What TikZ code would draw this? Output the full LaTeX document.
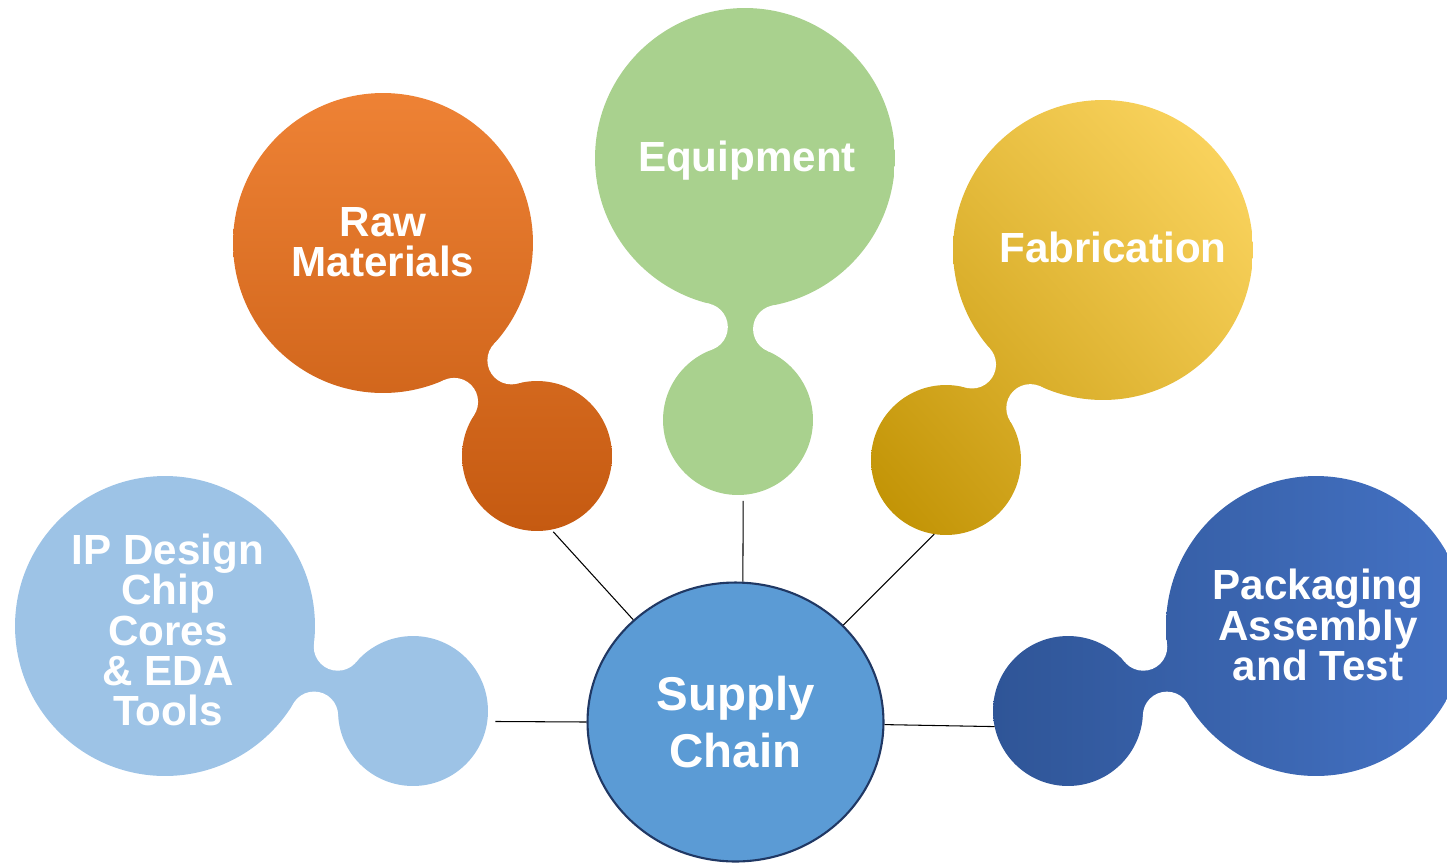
\documentclass[tikz,border=0pt]{standalone}
\usepackage{fontspec}
\setmainfont{Liberation Sans}
\usetikzlibrary{shapes.geometric,intersections,shadings}
\definecolor{rawtop}{HTML}{EE8235}
\definecolor{rawbottom}{HTML}{C55A11}
\definecolor{equipgreen}{HTML}{A9D18E}
\definecolor{fabdark}{HTML}{BF9000}
\definecolor{fablight}{HTML}{FFD966}
\definecolor{iplight}{HTML}{9DC3E6}
\definecolor{packdark}{HTML}{2F5597}
\definecolor{packlight}{HTML}{4472C4}
\definecolor{hubblue}{HTML}{5B9BD5}
\definecolor{hubline}{HTML}{203864}
\newcommand{\bubble}[4]{
	\coordinate (#1b) at #2;
	\node[knob] (#1S) at #3 {};
	\path[name path=#1pb] (#1b) circle[radius=3.48cm];
	\path[name path=#1ps] (#1S.center) circle[radius=1.98cm];
	\path[name intersections={of=#1pb and #1ps,by={#1fa,#1fb}}];
	\begin{scope}[local bounding box=#1box]
		\path (#1b) circle[radius=3cm] (#1S.center) circle[radius=1.5cm];
	\end{scope}
	\begin{scope}
		\clip (#1b) circle[radius=3cm];
		\path[#4] (#1box.south west) rectangle (#1box.north east);
	\end{scope}
	\begin{scope}
		\clip (#1S.center) circle[radius=1.5cm];
		\path[#4] (#1box.south west) rectangle (#1box.north east);
	\end{scope}
	\begin{scope}
		\clip (#1b) -- (#1fa) -- (#1S.center) -- (#1fb) -- cycle;
		\path[#4] (#1box.south west) rectangle (#1box.north east);
	\end{scope}
	\fill[white] (#1fa) circle[radius=0.48cm] (#1fb) circle[radius=0.48cm];
}

\begin{document}
\begin{tikzpicture}[x=0.02cm,y=0.02cm,
		lbl/.style={text=white,font=\bfseries\fontsize{24}{23}\selectfont,align=center},
		knob/.style={circle,minimum size=3cm,inner sep=0pt,outer sep=0pt},
		hub/.style={ellipse,draw=hubline,line width=1.2pt,fill=hubblue,minimum width=5.92cm,minimum height=5.58cm,inner sep=0pt,text=white,font=\bfseries\fontsize{27}{32.3}\selectfont,align=center},
		link/.style={draw=black,line width=0.6pt}]
			\bubble{ip}{(165,-626)}{(413,-711)}{fill=iplight}
			\bubble{raw}{(383,-243)}{(537,-456)}{top color=rawtop,bottom color=rawbottom}
			\bubble{equip}{(745,-158)}{(738,-420)}{fill=equipgreen}
			\bubble{fab}{(1103,-250)}{(946,-460)}{shading=bilinear interpolation,lower left=fabdark,upper right=fablight,upper left=fabdark!45!fablight,lower right=fabdark!45!fablight}
			\bubble{pack}{(1316,-626)}{(1068,-711)}{left color=packdark,right color=packlight}
			\node[lbl] (ipT) at (168,-630) {IP Design\\Chip\\Cores\\\& EDA\\Tools};
			\node[lbl] (rawT) at (383,-242) {Raw\\Materials};
			\node[lbl] (equipT) at (747,-161) {Equipment};
			\node[lbl] (fabT) at (1113,-247) {Fabrication};
			\node[lbl] (packT) at (1318,-625) {Packaging\\Assembly\\and Test};
			\node[hub] (sc) at (735.5,-722) {Supply\\Chain};
			\draw[link,shorten <=0.16cm] (ipS.-8) -- (sc.180);
			\draw[link,shorten <=0.06cm] (rawS.-79) -- (sc.135);
			\draw[link,shorten <=0.12cm] (equipS.-86) -- (sc.87);
			\draw[link] (fabS.-99) -- (sc.42);
			\draw[link] (packS.192) -- (sc.-1);
			\pgfresetboundingbox
			\useasboundingbox (0,0) rectangle (1447,-863);
		\end{tikzpicture}
\end{document}
